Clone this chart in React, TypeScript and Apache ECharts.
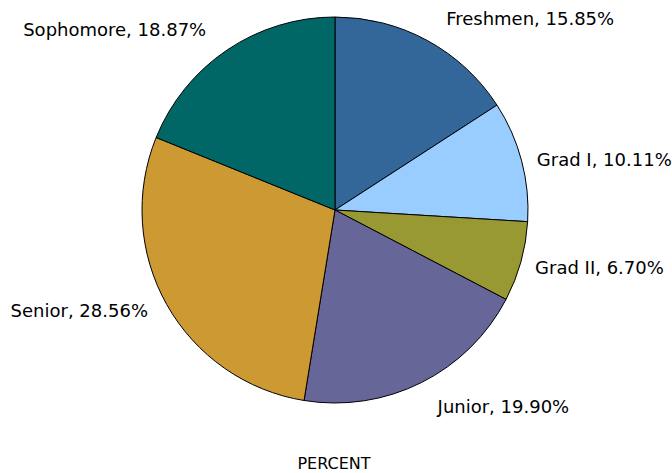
import React, { useEffect, useRef } from "react";
import * as echarts from "echarts";

const categories = ["Freshmen", "Grad I", "Grad II", "Junior", "Senior", "Sophomore"];
const percents = [15.85, 10.11, 6.7, 19.9, 28.56, 18.87];
const colors = ["#336699", "#99CCFF", "#999933", "#666699", "#CC9933", "#006666"];
const axisTitle = "PERCENT";

export default function App() {
  const ref = useRef<HTMLDivElement>(null);
  useEffect(() => {
    if (!ref.current) return;
    const chart = echarts.init(ref.current, undefined, { renderer: "svg" });
    const nudges: Record<number, { dx: number; dy: number }> = {
      1: { dx: -16, dy: 5 },
      2: { dx: -17, dy: -1 },
      3: { dx: -2, dy: 2 },
      4: { dx: 10, dy: -6 },
    };
    chart.setOption({
      animation: false,
      backgroundColor: "#ffffff",
      title: {
        text: axisTitle,
        left: 334,
        top: 455,
        padding: 0,
        textAlign: "center",
        textStyle: { fontFamily: "DejaVu Sans", fontSize: 16, fontWeight: "normal", color: "#000" },
      },
      series: [
        {
          type: "pie",
          center: [335, 210],
          radius: 193,
          startAngle: 90,
          clockwise: true,
          data: categories.map((c, i) => ({
            name: c,
            value: percents[i],
            itemStyle: { color: colors[i] },
          })),
          itemStyle: { borderColor: "#000", borderWidth: 1 },
          label: {
            show: true,
            position: "outside",
            formatter: (p: any) => `${p.name}, ${p.value.toFixed(2)}%`,
            fontFamily: "DejaVu Sans",
            fontSize: 18,
            color: "#000",
            overflow: "none",
            edgeDistance: 0,
          },
          labelLine: { show: false, length: 25, length2: 2 },
          labelLayout: (p: any) => {
            const n = nudges[p.dataIndex];
            return n ? { dx: n.dx, dy: n.dy } : {};
          },
          emphasis: { disabled: true },
        },
      ],
    });
    return () => chart.dispose();
  }, []);
  return (
    <div
      ref={ref}
      style={{ position: "fixed", left: 0, top: 0, width: 672, height: 473 }}
    />
  );
}
